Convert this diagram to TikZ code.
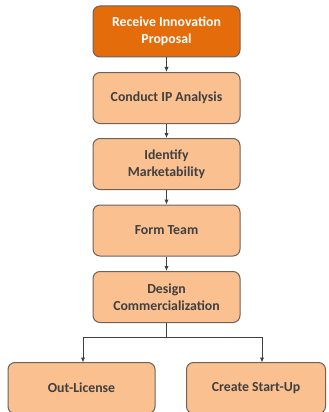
\documentclass[tikz,border=0pt]{standalone}
\usepackage{fontspec}
\setmainfont{Carlito}
\usepackage{tikz}
\usetikzlibrary{arrows.meta}
\definecolor{darkorange}{HTML}{E46C0A}
\definecolor{lightorange}{HTML}{FAC090}
\definecolor{boxline}{HTML}{6E625A}
\definecolor{boxtext}{HTML}{404040}

\begin{document}
\begin{tikzpicture}[x=1pt,y=-1pt,
  box/.style={draw=boxline,line width=1pt,fill=lightorange,rounded corners=7pt,
    minimum width=147pt,minimum height=51pt,align=center,text=boxtext,
    font=\fontsize{13.8}{17}\selectfont\bfseries},
  firstbox/.style={box,fill=darkorange,text=white},
  link/.style={-{Latex[length=5pt,width=4.5pt]},draw=boxtext,line width=1pt}]
\useasboundingbox (0,0) rectangle (329,412);
\clip (0,0) rectangle (329,412);
\node[firstbox] (receive) at (166.5,31.5) {Receive Innovation\\Proposal};
\node[box] (analysis) at (166.5,98) {Conduct IP Analysis};
\node[box] (market) at (166.5,164) {Identify\\Marketability};
\node[box] (team) at (166.5,230.5) {Form Team};
\node[box] (design) at (166.5,297) {Design\\Commercialization};
\node[box] (license) at (81.5,388) {Out-License};
\node[box,minimum width=139pt] (startup) at (256,388) {Create Start-Up};
\coordinate (split) at (166.5,337);
\draw[link] (receive) -- (analysis);
\draw[link] (analysis) -- (market);
\draw[link] (market) -- (team);
\draw[link] (team) -- (design);
\draw[draw=boxtext,line width=1pt] (design) -- (split);
\draw[link] (split) -| (83,362.5);
\draw[link] (split) -| (262,362.5);
\end{tikzpicture}
\end{document}
